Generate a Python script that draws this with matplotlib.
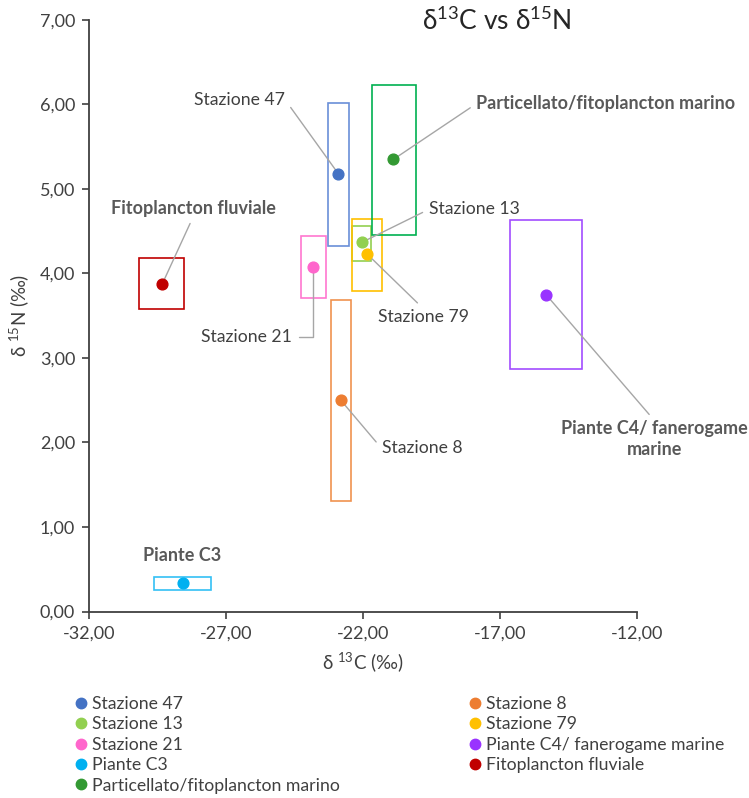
import matplotlib
matplotlib.use("Agg")
import numpy as np
import matplotlib.pyplot as plt
from matplotlib.patches import Rectangle
from matplotlib.lines import Line2D
from matplotlib.ticker import FuncFormatter, FixedLocator

plt.rcParams['font.family'] = ['Lato', 'DejaVu Sans']
plt.rcParams['mathtext.default'] = 'regular'

# series, in the order Excel stores them
names = ["Stazione 47", "Stazione 8", "Stazione 13", "Stazione 79", "Stazione 21",
         "Piante C4/ fanerogame marine", "Piante C3", "Fitoplancton fluviale",
         "Particellato/fitoplancton marino"]
d13c = [-22.90, -22.81, -22.03, -21.85, -23.81, -15.32, -28.56, -29.32, -20.89]
d15n = [5.18, 2.50, 4.37, 4.23, 4.08, 3.75, 0.34, 3.88, 5.35]
# extent of each box (range of the measurements)
c_lo = [-23.27, -23.16, -22.39, -22.39, -24.27, -16.62, -29.63, -30.16, -21.67]
c_hi = [-22.50, -22.43, -21.72, -21.31, -23.34, -14.00, -27.54, -28.54, -20.05]
n_lo = [4.33, 1.31, 4.15, 3.79, 3.71, 2.87, 0.26, 3.58, 4.46]
n_hi = [6.02, 3.69, 4.56, 4.65, 4.445, 4.63, 0.405, 4.18, 6.23]

x_ticks = np.arange(-32, -11, 5)
y_ticks = np.arange(0, 8, 1)

colors = ["#4472C4", "#ED7D31", "#92D050", "#FFC000", "#FF66CC",
          "#9933FF", "#00B0F0", "#C00000", "#339933"]
box_colors = ["#6A8FD8", "#F0924F", "#92D050", "#FFC000", "#FF77D0",
              "#A24DFF", "#33C0F5", "#C00000", "#00B050"]

# data label text, position, where the leader leaves the text, bold
labels = {
    "Stazione 47": ("Stazione 47", (-26.49, 6.05), (1, 0.5), False),
    "Stazione 8": ("Stazione 8", (-19.85, 1.93), (0, 0.5), False),
    "Stazione 13": ("Stazione 13", (-17.93, 4.76), (0, 0.5), False),
    "Stazione 79": ("Stazione 79", (-19.80, 3.49), (0.5, 1), False),
    "Stazione 21": ("Stazione 21", (-26.24, 3.25), (1, 0.5), False),
    "Piante C4/ fanerogame marine": ("Piante C4/ fanerogame\nmarine", (-11.37, 2.04), (0.5, 1), True),
    "Piante C3": ("Piante C3", (-28.59, 0.66), None, True),
    "Fitoplancton fluviale": ("Fitoplancton fluviale", (-28.20, 4.77), (0.5, 0), True),
    "Particellato/fitoplancton marino": ("Particellato/fitoplancton marino", (-13.13, 6.01), (0, 0.5), True),
}

fig = plt.figure(figsize=(7.49, 7.98), dpi=100)
ax = fig.add_axes([0.1188, 0.2337, 0.7317, 0.7413])

for i, name in enumerate(names):
    ax.add_patch(Rectangle((c_lo[i], n_lo[i]), c_hi[i] - c_lo[i], n_hi[i] - n_lo[i],
                           fill=False, edgecolor=box_colors[i], lw=1.2, zorder=2))
    ax.scatter(d13c[i], d15n[i], s=60, color=colors[i], zorder=5, label=name)

    text, pos, rel, bold = labels[name]
    kw = dict(xy=(d13c[i], d15n[i]), xytext=pos, textcoords='data', ha='center', va='center',
              fontsize=13 if bold else 12.7, color='#595959' if bold else '#404040',
              fontweight='bold' if bold else 'normal', annotation_clip=False,
              linespacing=1.25, zorder=4)
    if rel is not None:
        cs = "angle,angleA=0,angleB=90,rad=0" if name == "Stazione 21" else "arc3"
        kw['arrowprops'] = dict(arrowstyle='-', color='#A6A6A6', lw=1, shrinkA=3, shrinkB=0,
                                relpos=rel, connectionstyle=cs)
    ax.annotate(text, **kw)

ax.set_xlim(-32, -12)
ax.set_ylim(0, 7)
ax.xaxis.set_major_locator(FixedLocator(x_ticks))
ax.yaxis.set_major_locator(FixedLocator(y_ticks))
fmt = FuncFormatter(lambda v, p: f"{v:.2f}".replace('.', ','))
ax.xaxis.set_major_formatter(fmt)
ax.yaxis.set_major_formatter(fmt)

for s in ['top', 'right']:
    ax.spines[s].set_visible(False)
for s in ['left', 'bottom']:
    ax.spines[s].set_color('#404040')
    ax.spines[s].set_linewidth(1.3)
ax.tick_params(direction='out', length=5, width=1.2, color='#404040',
               labelsize=13, labelcolor='#404040', pad=5)

ax.set_xlabel(r"δ $^{13}$C (‰)", fontsize=13.5, color='#404040', labelpad=6)
ax.set_ylabel(r"δ $^{15}$N (‰)", fontsize=13.5, color='#404040', labelpad=6)

fig.text(0.663, 0.973, r"δ$^{13}$C vs δ$^{15}$N", ha='center', va='center',
         fontsize=19, color='#262626')

# Excel lists legend entries row by row; matplotlib fills column by column
order = [0, 2, 4, 6, 8, 1, 3, 5, 7]
handles = [Line2D([], [], marker='o', ls='none', markersize=7.5, color=colors[k]) for k in order]
fig.legend(handles, [names[k] for k in order], ncol=2, frameon=False,
           loc='upper left', bbox_to_anchor=(0.0895, 0.139), fontsize=12.7,
           handlelength=0.6, handletextpad=0.3, columnspacing=7.4,
           labelspacing=0.25, borderpad=0, labelcolor='#404040')

fig.savefig("out.png", dpi=100)
